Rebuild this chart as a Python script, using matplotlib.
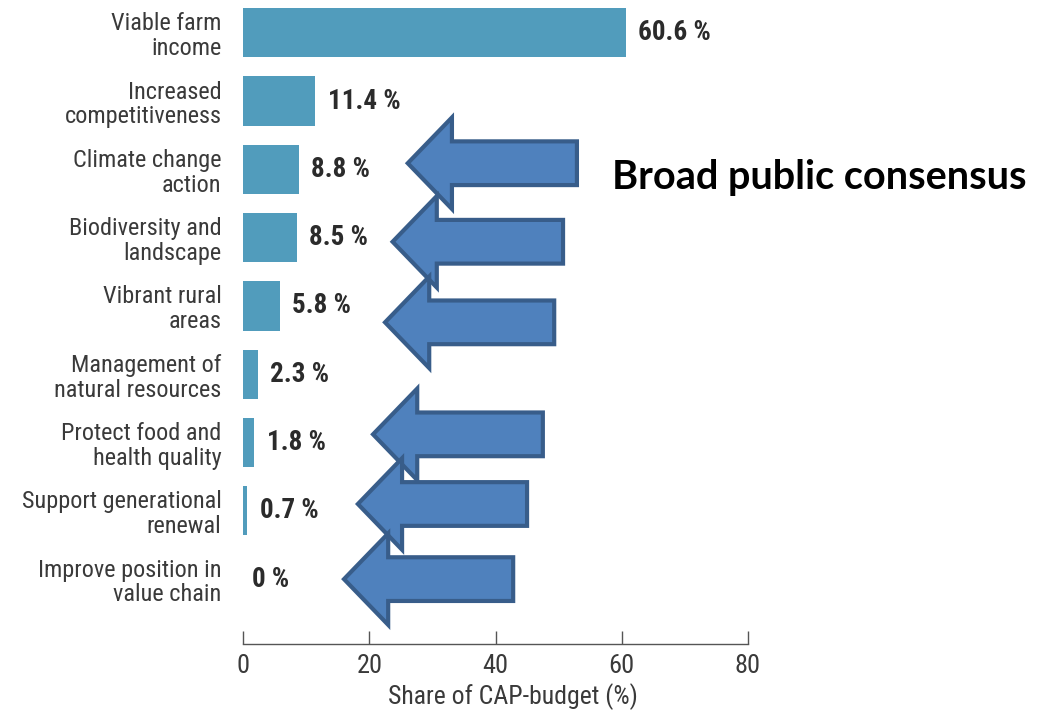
import matplotlib.pyplot as plt
from matplotlib.patches import Polygon

# data
categories = ['Viable farm\nincome', 'Increased\ncompetitiveness', 'Climate change\naction',
              'Biodiversity and\nlandscape', 'Vibrant rural\nareas', 'Management of\nnatural resources',
              'Protect food and\nhealth quality', 'Support generational\nrenewal',
              'Improve position in\nvalue chain']
shares = [60.6, 11.4, 8.8, 8.5, 5.8, 2.3, 1.8, 0.7, 0.0]
share_labels = ['60.6 %', '11.4 %', '8.8 %', '8.5 %', '5.8 %', '2.3 %', '1.8 %', '0.7 %', '0 %']
xticks = [0, 20, 40, 60, 80]

# arrows (row, row offset, tip x, tail x)
arrow_rows = [2, 3, 4, 6, 7, 8]
arrow_dy = [-0.09, 0.06, 0.24, -0.12, -0.10, 0.0]
arrow_tip = [26.1, 23.7, 22.5, 20.6, 18.2, 16.0]
arrow_tail = [52.9, 50.7, 49.3, 47.5, 45.0, 42.8]

NARROW = ['Roboto Condensed', 'Roboto', 'DejaVu Sans']
BAR_COLOR = '#519cbc'
TEXT = '#2b2b2b'

fig = plt.figure(figsize=(10.43, 7.14), dpi=100)
ax = fig.add_axes([243 / 1043, 70 / 714, 505 / 1043, 644 / 714])

ypos = list(range(len(categories)))
ax.barh(ypos, shares, height=0.72, color=BAR_COLOR, linewidth=0, zorder=2)

for y, v, lab in zip(ypos, shares, share_labels):
    off = 2.0 if v > 0 else 1.4
    ax.text(v + off, y, lab, va='center', ha='left', fontsize=19.5, fontweight='bold',
            color=TEXT, family=NARROW)

ax.set_xlim(0, 80)
ax.set_ylim(8.95, -0.48)
ax.set_yticks(ypos)
ax.set_yticklabels(categories, family=NARROW, fontsize=17.5, color='#3a3a3a', linespacing=1.1)
ax.tick_params(axis='y', length=0, pad=15.5)
ax.set_xticks(xticks)
ax.set_xticklabels([str(t) for t in xticks], family=NARROW, fontsize=19, color='#3a3a3a')
ax.tick_params(axis='x', direction='in', length=9.5, width=1, color='#555555', pad=7)
ax.set_xlabel('Share of CAP-budget (%)', family=NARROW, fontsize=18.5, color='#3a3a3a',
              va='center')
ax.xaxis.set_label_coords(0.535, -0.082)

for s in ['top', 'right', 'left']:
    ax.spines[s].set_visible(False)
ax.spines['bottom'].set_color('#555555')
ax.spines['bottom'].set_linewidth(1)

# block arrows pointing left
head_len = 7.0
head_half = 0.67
shaft_half = 0.32
for r, dy, tip, tail in zip(arrow_rows, arrow_dy, arrow_tip, arrow_tail):
    yc = r + dy
    pts = [(tip, yc), (tip + head_len, yc - head_half), (tip + head_len, yc - shaft_half),
           (tail, yc - shaft_half), (tail, yc + shaft_half), (tip + head_len, yc + shaft_half),
           (tip + head_len, yc + head_half)]
    ax.add_patch(Polygon(pts, closed=True, facecolor='#4f81bd', edgecolor='#385d8a',
                         linewidth=3, joinstyle='miter', zorder=3, clip_on=False))

fig.text(612 / 1043, 1 - 178 / 714, 'Broad public consensus', fontsize=28.5, fontweight='bold',
         family=['Lato', 'DejaVu Sans'], va='center', ha='left', color='black')

fig.savefig('out.png', dpi=100)
